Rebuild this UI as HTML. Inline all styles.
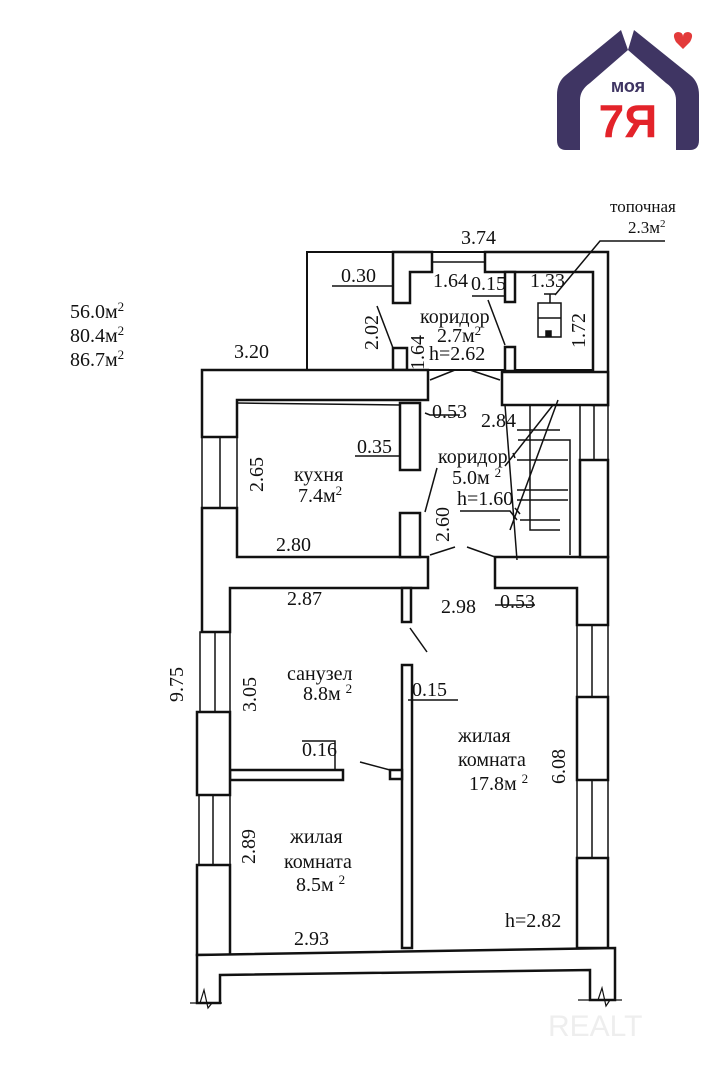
<!DOCTYPE html>
<html><head><meta charset="utf-8"><style>
html,body{margin:0;padding:0;background:#fff;}
svg{display:block}
text{font-family:"Liberation Serif",serif;font-size:20px;fill:#111}
</style></head><body>
<svg width="727" height="1080" viewBox="0 0 727 1080" xmlns="http://www.w3.org/2000/svg">
<!-- logo -->
<g>
<path d="M621 30 L566 75 Q557 82 557 95 L557 140 Q557 150 566 150 L580 150 L580 100 Q580 90 590 83 L628 50 Z" fill="#3f3563"/>
<path d="M634 30 L690 75 Q699 82 699 95 L699 140 Q699 150 690 150 L676 150 L676 100 Q676 90 666 83 L628 50 Z" fill="#3f3563"/>
<path d="M676 42 Q671 33 678 32 Q683 32 683 37 Q683 32 688 32 Q695 33 690 42 L683 49 Z" fill="#e33a3a"/>
<text x="628" y="92" text-anchor="middle" style="font-family:'Liberation Sans',sans-serif;font-size:18px;font-weight:bold;fill:#3f3563">моя</text>
<text x="628" y="137" text-anchor="middle" style="font-family:'Liberation Sans',sans-serif;font-size:46px;font-weight:bold;fill:#e3232a">7Я</text>
</g>

<g fill="#fff" stroke="#111" stroke-width="2.5">
<rect x="307" y="252" width="301" height="118" stroke-width="2"/>
<path d="M393 252 L432 252 L432 272 L410 272 L410 303 L393 303 Z"/>
<path d="M485 252 L608 252 L608 405 L593 405 L593 272 L485 272 Z"/>
<line x1="432" y1="262" x2="485" y2="262" stroke-width="1.5"/>
<rect x="505" y="272" width="10" height="30"/>
<rect x="505" y="347" width="10" height="24"/>
<rect x="393" y="348" width="14" height="22"/>
<path d="M202 370 L428 370 L428 400 L237 400 L237 437 L202 437 Z"/>
<rect x="502" y="372" width="106" height="33"/>
<path d="M202 508 L237 508 L237 557 L428 557 L428 588 L230 588 L230 632 L202 632 Z"/>
<path d="M495 557 L608 557 L608 625 L577 625 L577 588 L495 588 Z"/>
<rect x="580" y="460" width="28" height="97"/>
<rect x="400" y="403" width="20" height="67"/>
<rect x="400" y="513" width="20" height="44"/>
<rect x="402" y="588" width="9" height="34"/>
<rect x="402" y="665" width="10" height="283"/>
<rect x="230" y="770" width="113" height="10"/>
<rect x="390" y="770" width="12" height="9"/>
<rect x="197" y="712" width="33" height="83"/>
<rect x="197" y="865" width="33" height="90"/>
<rect x="577" y="697" width="31" height="83"/>
<rect x="577" y="858" width="31" height="90"/>
<path d="M197 955 L615 948 L615 1000 L590 1000 L590 970 L220 975 L220 1003 L197 1003 Z"/>
</g>
<g stroke="#111" stroke-width="1.5" fill="none">
<rect x="202" y="437" width="35" height="71"/><line x1="220" y1="437" x2="220" y2="508"/>
<rect x="200" y="632" width="30" height="80"/><line x1="215" y1="632" x2="215" y2="712"/>
<rect x="199" y="795" width="31" height="70"/><line x1="213" y1="795" x2="213" y2="865"/>
<rect x="577" y="625" width="31" height="72"/><line x1="592" y1="625" x2="592" y2="697"/>
<rect x="577" y="780" width="31" height="78"/><line x1="592" y1="780" x2="592" y2="858"/>
<rect x="580" y="405" width="28" height="55"/><line x1="594" y1="405" x2="594" y2="460"/>
<line x1="237" y1="403" x2="400" y2="405"/>
<path d="M430 380 L455 370 M470 370 L500 380"/>
<path d="M430 555 L455 547 M467 547 L495 557"/>
<path d="M377 306 L393 348 M488 300 L505 345"/>
<path d="M425 512 L437 468"/>
<path d="M410 628 L427 652"/>
<path d="M360 762 L390 770"/>
<path d="M505 405 L517 560 M505 466 L553 405 M510 530 L558 400"/>
<path d="M517 430 L560 430 M530 405 L530 530 L560 530 M518 440 L570 440 L570 555 M517 460 L568 460 M517 490 L568 490 M517 500 L568 500 M520 520 L560 520"/>
<path d="M513 453 L515 458 M515 508 L520 514"/>
<path d="M550 294 L550 303 M544 294 L556 294"/>
<rect x="538" y="303" width="23" height="34"/>
<line x1="538" y1="318" x2="561" y2="318"/>
<rect x="546" y="331" width="5" height="5" fill="#111"/>
<path d="M332 286 L393 286 M472 296 L505 296 M425 413 L430 415 L460 415 M355 456 L400 456 M460 511 L510 511 L517 520 M495 605 L535 605 M408 700 L458 700 M302 741 L335 741 L335 770 M555 295 L600 241 L665 241"/>
<path d="M190 1003 L200 1003 L204 990 L208 1008 L212 1003 L222 1003 M578 1000 L598 1000 L602 988 L606 1006 L610 1000 L622 1000" stroke-width="1.2"/>
</g>

<g>
<text x="610" y="212" style="font-size:17px">топочная</text>
<text x="628" y="233" style="font-size:17px">2.3м<tspan dy="-6" font-size="11">2</tspan></text>
<text x="461" y="244">3.74</text>
<text x="341" y="282">0.30</text>
<text x="433" y="287">1.64</text>
<text x="471" y="290">0.15</text>
<text x="530" y="287">1.33</text>
<text x="420" y="323">коридор</text>
<text x="437" y="342">2.7м<tspan dy="-7" font-size="13">2</tspan></text>
<text x="429" y="360">h=2.62</text>
<text x="234" y="358">3.20</text>
<text x="432" y="418">0.53</text>
<text x="481" y="427">2.84</text>
<text x="357" y="453">0.35</text>
<text x="438" y="463">коридор</text>
<text x="452" y="484">5.0м <tspan dy="-7" font-size="13">2</tspan></text>
<text x="457" y="505">h=1.60</text>
<text x="294" y="481">кухня</text>
<text x="298" y="502">7.4м<tspan dy="-7" font-size="13">2</tspan></text>
<text x="276" y="551">2.80</text>
<text x="287" y="605">2.87</text>
<text x="441" y="613">2.98</text>
<text x="500" y="608">0.53</text>
<text x="287" y="680">санузел</text>
<text x="303" y="700">8.8м <tspan dy="-7" font-size="13">2</tspan></text>
<text x="412" y="696">0.15</text>
<text x="302" y="756">0.16</text>
<text x="458" y="742">жилая</text>
<text x="458" y="766">комната</text>
<text x="469" y="790">17.8м <tspan dy="-7" font-size="13">2</tspan></text>
<text x="290" y="843">жилая</text>
<text x="284" y="868">комната</text>
<text x="296" y="891">8.5м <tspan dy="-7" font-size="13">2</tspan></text>
<text x="294" y="945">2.93</text>
<text x="505" y="927">h=2.82</text>
<text x="70" y="318">56.0м<tspan dy="-7" font-size="13">2</tspan></text>
<text x="70" y="342">80.4м<tspan dy="-7" font-size="13">2</tspan></text>
<text x="70" y="366">86.7м<tspan dy="-7" font-size="13">2</tspan></text>
<text transform="translate(378,350) rotate(-90)">2.02</text>
<text transform="translate(424,370) rotate(-90)">1.64</text>
<text transform="translate(585,348) rotate(-90)">1.72</text>
<text transform="translate(263,492) rotate(-90)">2.65</text>
<text transform="translate(449,542) rotate(-90)">2.60</text>
<text transform="translate(256,712) rotate(-90)">3.05</text>
<text transform="translate(255,864) rotate(-90)">2.89</text>
<text transform="translate(565,784) rotate(-90)">6.08</text>
<text transform="translate(183,702) rotate(-90)">9.75</text>
<text x="548" y="1036" style="font-family:'Liberation Sans',sans-serif;font-size:30px;fill:#eee">REALT</text>
</g>
</svg>
</body></html>
